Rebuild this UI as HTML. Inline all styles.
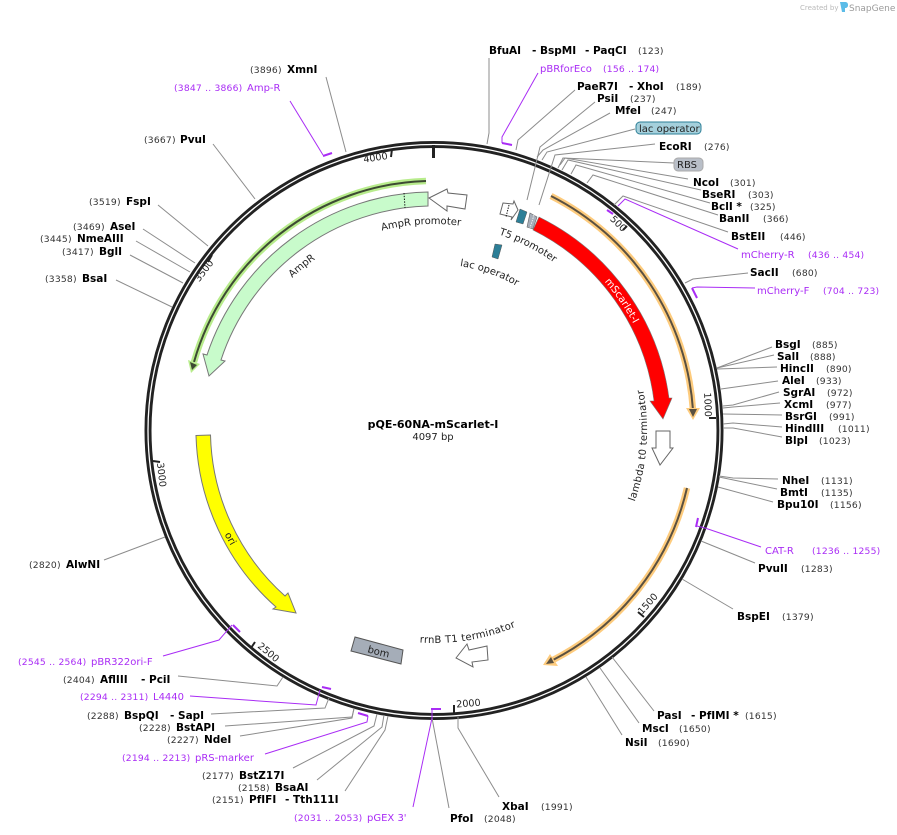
<!DOCTYPE html>
<html><head><meta charset="utf-8"><title>pQE-60NA-mScarlet-I</title>
<style>
html,body{margin:0;padding:0;background:#fff}
svg{display:block}
text{font-family:"DejaVu Sans",sans-serif;fill:#222}
.b{font-size:10.5px;font-weight:bold;fill:#000}
.n{font-size:9.2px;fill:#333;letter-spacing:.2px}
.p{font-size:10px;fill:#a92cf5}
.q{font-size:9.2px;fill:#a92cf5;letter-spacing:.2px}
.f{font-size:10px;fill:#222}
.t{font-size:9.6px;fill:#222}
.g{fill:none;stroke:#8c8c8c;stroke-width:1}
.v{fill:none;stroke:#a92cf5;stroke-width:1}
.m{fill:none;stroke:#a92cf5;stroke-width:2}
</style></head><body>
<svg width="897" height="835" viewBox="0 0 897 835" xmlns="http://www.w3.org/2000/svg">
<defs>
<path id="c206" d="M434 636A206 206 0 1 1 434 224A206 206 0 1 1 434 636"/>
<path id="c208" d="M434 638A208 208 0 1 1 434 222A208 208 0 1 1 434 638"/>
<path id="c166" d="M434 596A166 166 0 1 1 434 264A166 166 0 1 1 434 596"/>
<path id="c226" d="M434 656A226 226 0 1 1 434 204A226 226 0 1 1 434 656"/>
<path id="a213" d="M434 217A213 213 0 1 0 434 643A213 213 0 1 0 434 217"/>
<path id="a232" d="M434 198A232 232 0 1 0 434 662A232 232 0 1 0 434 198"/>
<path id="a234" d="M434 196A234 234 0 1 0 434 664A234 234 0 1 0 434 196"/>
</defs>

<!-- logo -->
<text x="800" y="10" style="font-size:7px;fill:#b9b9b9">Created by</text>
<path d="M840 2h5c2 0 3 1 3 3s-1 3-3 3v4h-3z" fill="#5bbce8"/>
<text x="849" y="11" style="font-size:9px;fill:#9a9a9a">SnapGene</text>

<!-- ring -->
<circle cx="434" cy="430.5" r="286" fill="none" stroke="#222" stroke-width="7"/>
<circle cx="434" cy="430.5" r="286" fill="none" stroke="#fff" stroke-width="1.3"/>

<!-- ticks -->
<g stroke="#222" fill="none">
<path d="M433.5 145V158" stroke-width="3"/>
<path d="M392 149L391 157" stroke-width="2"/>
<path d="M212 255L208 262" stroke-width="2"/>
<path d="M627 226L623 230" stroke-width="2"/>
<path d="M716 418H709" stroke-width="2"/>
<path d="M644 617L638 612" stroke-width="2"/>
<path d="M454 714V705" stroke-width="2"/>
<path d="M255 642L251 648" stroke-width="2"/>
<path d="M153 461L160 462" stroke-width="2"/>
</g>
<text class="t" transform="translate(388,159) rotate(-8.5)" text-anchor="end">4000</text>
<text class="t" transform="translate(214,263) rotate(-52.4)" text-anchor="end">3500</text>
<text class="t" transform="translate(622.7,232.3) rotate(44)" text-anchor="end">500</text>
<text class="t" transform="translate(705,417) rotate(88)" text-anchor="end">1000</text>
<text class="t" transform="translate(642,615) rotate(-48)">1500</text>
<text class="t" transform="translate(456.5,707.5) rotate(-4.3)">2000</text>
<text class="t" transform="translate(257,647) rotate(39.7)">2500</text>
<text class="t" transform="translate(157,463) rotate(83.6)">3000</text>

<!-- orange arcs -->
<g fill="none" stroke-linecap="butt">
<path d="M551 196A260 260 0 0 1 693 410" stroke="#fdcb7d" stroke-width="6.5"/>
<path d="M551 196A260 260 0 0 1 693 410" stroke="#5a5040" stroke-width="2"/>
<path d="M687 488A260 260 0 0 1 553 660" stroke="#fdcb7d" stroke-width="6.5"/>
<path d="M687 488A260 260 0 0 1 553 660" stroke="#5a5040" stroke-width="2"/>
<path d="M426 181A249 249 0 0 0 194 362" stroke="#b8ec8c" stroke-width="6.5"/>
<path d="M426 181A249 249 0 0 0 194 362" stroke="#3d4a33" stroke-width="2"/>
</g>
<path d="M686 408H700L693 420Z" fill="#fdcb7d"/><path d="M689 409H697L693 417Z" fill="#5a5040"/>
<path d="M550 654L558 666L543 665Z" fill="#fdcb7d"/><path d="M551 657L554 663L546 664Z" fill="#5a5040"/>
<path d="M188 360L200 364L191 373Z" fill="#b8ec8c"/><path d="M190 362L197 365L192 370Z" fill="#3d4a33"/>

<!-- features -->
<path d="M539 217A237 237 0 0 1 669 398L672 398L663 419L650 401L654 401A222 222 0 0 0 533 230Z" fill="#f00" stroke="#777" stroke-width=".6"/>
<path d="M428 192A238 238 0 0 0 207 355L203 354L209 376L225 361L221 360A224 224 0 0 1 428 206Z" fill="#c8fbcb" stroke="#777" stroke-width="1"/>
<path d="M404 193L405 208" stroke="#111" stroke-width="1" stroke-dasharray="1.4 1.4"/>
<path d="M196 435.5L210.5 435A223 223 0 0 0 285 596L288 593L296 613L273 609L276 607A238 238 0 0 1 196 435.5Z" fill="#ff0" stroke="#777" stroke-width="1"/>
<path d="M355 637L403 650L401 664L351 651Z" fill="#a5adb8" stroke="#555" stroke-width="1"/>
<path d="M429 198L447 189L448 193L467 195L465 209L447 206L447 211Z" fill="#fff" stroke="#666" stroke-width="1"/>
<path d="M456 658L467 644L469 650L487 646L488 660L472 662L473 667Z" fill="#fff" stroke="#666" stroke-width="1"/>
<path d="M656 431H670V448H673L660 465L652 448H656Z" fill="#fff" stroke="#666" stroke-width="1"/>
<path d="M503 203L513 204L514 201L518 210L511 220L512 217L500 214Z" fill="#fff" stroke="#666" stroke-width="1"/>
<path d="M509 205L506 217" stroke="#111" stroke-width="1" stroke-dasharray="1.4 1.2"/>
<path d="M520 209L527 212L523 224L516 222Z" fill="#2d7f97" stroke="#555" stroke-width=".5"/>
<path d="M530 213L537 217L533 229L527 227Z" fill="#a6adb8" stroke="#666" stroke-width=".6"/>
<path d="M534 215L530 228" stroke="#fff" stroke-width=".8" stroke-dasharray="1.4 1.2"/>
<path d="M495 244L502 245L498 259L492 257Z" fill="#2d7f97" stroke="#555" stroke-width=".5"/>

<!-- curved feature labels -->
<text class="f" text-anchor="middle"><textPath href="#c206" startOffset="49%">AmpR promoter</textPath></text>
<text class="f" text-anchor="middle"><textPath href="#c208" startOffset="39.2%">AmpR</textPath></text>
<text class="f" text-anchor="middle"><textPath href="#c206" startOffset="57.5%">T5 promoter</textPath></text>
<text class="f" text-anchor="middle"><textPath href="#c166" startOffset="55.4%">lac operator</textPath></text>
<text class="f" text-anchor="middle" style="fill:#fff"><textPath href="#c226" startOffset="65.4%">mScarlet-I</textPath></text>
<text class="f" text-anchor="middle" style="letter-spacing:.35px"><textPath href="#a213" startOffset="73.8%">lambda t0 terminator</textPath></text>
<text class="f" text-anchor="middle" style="letter-spacing:.3px"><textPath href="#a213" startOffset="52.6%">rrnB T1 terminator</textPath></text>
<text class="f" text-anchor="middle"><textPath href="#a232" startOffset="46.1%">bom</textPath></text>
<text class="f" text-anchor="middle"><textPath href="#a234" startOffset="32.8%">ori</textPath></text>

<!-- connectors -->
<g class="g">
<polyline class="g" points="489,58 489,133 487,144"/>
<polyline class="g" points="575,90 518,140 516,150"/>
<polyline class="g" points="595,102 540,147 527,200"/>
<polyline class="g" points="610,113 543,150 537,157"/>
<polyline class="g" points="635,129 547,152 542,160"/>
<polyline class="g" points="655,144 555,155 539,205"/>
<polyline class="g" points="674,163 563,158 558,168"/>
<polyline class="g" points="688,179 565,158 560,165"/>
<polyline class="g" points="701,190 568,160 562,170"/>
<polyline class="g" points="710,203 576,165 571,174"/>
<polyline class="g" points="718,215 593,175 587,183"/>
<polyline class="g" points="728,232 623,196 614,205"/>
<polyline class="g" points="748,273 693,279 685,283"/>
<polyline class="g" points="772,347 717,368"/>
<polyline class="g" points="774,355 717,368"/>
<polyline class="g" points="777,367 717,369"/>
<polyline class="g" points="778,381 721,389"/>
<polyline class="g" points="779,392 733,405 723,406"/>
<polyline class="g" points="780,403 733,407 723,408"/>
<polyline class="g" points="782,415 723,414"/>
<polyline class="g" points="782,427 733,423 723,424"/>
<polyline class="g" points="782,437 733,428 723,428"/>
<polyline class="g" points="778,479 733,478 719,476"/>
<polyline class="g" points="777,489 719,477"/>
<polyline class="g" points="773,502 718,487"/>
<polyline class="g" points="755,563 701,541"/>
<polyline class="g" points="733,609 682,579"/>
<polyline class="g" points="654,711 612,657"/>
<polyline class="g" points="639,723 600,668"/>
<polyline class="g" points="622,735 586,677"/>
<polyline class="g" points="499,797 458,728 458,717"/>
<polyline class="g" points="449,808 432,718"/>
<polyline class="g" points="345,791 385,730 388,716"/>
<polyline class="g" points="317,780 382,727 384,715"/>
<polyline class="g" points="293,768 374,726 377,714"/>
<polyline class="g" points="240,736 352,718 354,708"/>
<polyline class="g" points="225,726 352,717 354,709"/>
<polyline class="g" points="211,714 325,708 329,698"/>
<polyline class="g" points="178,676 277,686 283,677"/>
<polyline class="g" points="104,560 165,537"/>
<polyline class="g" points="116,280 172,307"/>
<polyline class="g" points="130,255 183,283"/>
<polyline class="g" points="136,241 190,272"/>
<polyline class="g" points="143,229 195,263"/>
<polyline class="g" points="158,205 208,246"/>
<polyline class="g" points="213,144 255,199"/>
<polyline class="g" points="326,77 346,152"/>
</g>
<g>
<polyline class="v" points="538,73 502,137 502,143"/><path class="m" d="M502 143L512 145"/>
<polyline class="v" points="738,249 625,199 618,206"/><path class="m" d="M607 210L613 214"/>
<polyline class="v" points="755,288 697,287 692,288"/><path class="m" d="M692 288L697 298"/>
<polyline class="v" points="761,547 705,528 697,526"/><path class="m" d="M698 518L696 527"/>
<polyline class="v" points="413,807 432,718 432,709"/><path class="m" d="M431 709H441"/>
<polyline class="v" points="265,754 367,722 368,716"/><path class="m" d="M358 713L368 716"/>
<polyline class="v" points="190,696 316,705 320,690"/><path class="m" d="M322 687L331 689"/>
<polyline class="v" points="163,656 219,640 232,625"/><path class="m" d="M233 625L240 632"/>
<polyline class="v" points="290,101 323,155"/><path class="m" d="M323 156L332 153"/>
</g>

<!-- label pills -->
<rect x="636" y="122" width="65" height="12" rx="4" fill="#a5d0dc" stroke="#2d7f97" stroke-width="1"/>
<text x="639" y="132" class="f">lac operator</text>
<rect x="674" y="158" width="29" height="13" rx="4" fill="#b9bfc8" stroke="#aaa" stroke-width="1"/>
<text x="677" y="168" class="f">RBS</text>

<!-- enzyme labels -->
<text x="489" y="54" class="b">BfuAI</text><text x="532" y="54" class="b">- BspMI</text><text x="585" y="54" class="b">- PaqCI</text><text x="638" y="54" class="n">(123)</text>
<text x="540" y="72" class="p">pBRforEco</text><text x="603" y="72" class="q">(156 .. 174)</text>
<text x="577" y="90" class="b">PaeR7I</text><text x="629" y="90" class="b">- XhoI</text><text x="676" y="90" class="n">(189)</text>
<text x="597" y="102" class="b">PsiI</text><text x="630" y="102" class="n">(237)</text>
<text x="615" y="114" class="b">MfeI</text><text x="651" y="114" class="n">(247)</text>
<text x="659" y="150" class="b">EcoRI</text><text x="704" y="150" class="n">(276)</text>
<text x="693" y="186" class="b">NcoI</text><text x="730" y="186" class="n">(301)</text>
<text x="702" y="198" class="b">BseRI</text><text x="748" y="198" class="n">(303)</text>
<text x="711" y="210" class="b">BclI *</text><text x="750" y="210" class="n">(325)</text>
<text x="719" y="222" class="b">BanII</text><text x="763" y="222" class="n">(366)</text>
<text x="731" y="240" class="b">BstEII</text><text x="780" y="240" class="n">(446)</text>
<text x="741" y="258" class="p">mCherry-R</text><text x="808" y="258" class="q">(436 .. 454)</text>
<text x="750" y="276" class="b">SacII</text><text x="792" y="276" class="n">(680)</text>
<text x="757" y="294" class="p">mCherry-F</text><text x="823" y="294" class="q">(704 .. 723)</text>
<text x="775" y="348" class="b">BsgI</text><text x="812" y="348" class="n">(885)</text>
<text x="777" y="360" class="b">SalI</text><text x="810" y="360" class="n">(888)</text>
<text x="780" y="372" class="b">HincII</text><text x="826" y="372" class="n">(890)</text>
<text x="782" y="384" class="b">AleI</text><text x="816" y="384" class="n">(933)</text>
<text x="783" y="396" class="b">SgrAI</text><text x="827" y="396" class="n">(972)</text>
<text x="784" y="408" class="b">XcmI</text><text x="826" y="408" class="n">(977)</text>
<text x="785" y="420" class="b">BsrGI</text><text x="829" y="420" class="n">(991)</text>
<text x="785" y="432" class="b">HindIII</text><text x="838" y="432" class="n">(1011)</text>
<text x="785" y="444" class="b">BlpI</text><text x="819" y="444" class="n">(1023)</text>
<text x="782" y="484" class="b">NheI</text><text x="821" y="484" class="n">(1131)</text>
<text x="780" y="496" class="b">BmtI</text><text x="821" y="496" class="n">(1135)</text>
<text x="777" y="508" class="b">Bpu10I</text><text x="830" y="508" class="n">(1156)</text>
<text x="765" y="554" class="p">CAT-R</text><text x="812" y="554" class="q">(1236 .. 1255)</text>
<text x="758" y="572" class="b">PvuII</text><text x="801" y="572" class="n">(1283)</text>
<text x="737" y="620" class="b">BspEI</text><text x="782" y="620" class="n">(1379)</text>
<text x="657" y="719" class="b">PasI</text><text x="691" y="719" class="b">- PfIMI *</text><text x="745" y="719" class="n">(1615)</text>
<text x="642" y="732" class="b">MscI</text><text x="679" y="732" class="n">(1650)</text>
<text x="625" y="746" class="b">NsiI</text><text x="658" y="746" class="n">(1690)</text>
<text x="502" y="810" class="b">XbaI</text><text x="541" y="810" class="n">(1991)</text>
<text x="450" y="822" class="b">PfoI</text><text x="484" y="822" class="n">(2048)</text>
<text x="367" y="821" class="p">pGEX 3'</text><text x="294" y="821" class="q">(2031 .. 2053)</text>
<text x="212" y="803" class="n">(2151)</text><text x="249" y="803" class="b">PfIFI</text><text x="285" y="803" class="b">- Tth111I</text>
<text x="238" y="791" class="n">(2158)</text><text x="275" y="791" class="b">BsaAI</text>
<text x="202" y="779" class="n">(2177)</text><text x="239" y="779" class="b">BstZ17I</text>
<text x="122" y="761" class="q">(2194 .. 2213)</text><text x="195" y="761" class="p">pRS-marker</text>
<text x="167" y="743" class="n">(2227)</text><text x="204" y="743" class="b">NdeI</text>
<text x="139" y="731" class="n">(2228)</text><text x="176" y="731" class="b">BstAPI</text>
<text x="87" y="719" class="n">(2288)</text><text x="124" y="719" class="b">BspQI</text><text x="170" y="719" class="b">- SapI</text>
<text x="80" y="700" class="q">(2294 .. 2311)</text><text x="153" y="700" class="p">L4440</text>
<text x="63" y="683" class="n">(2404)</text><text x="100" y="683" class="b">AflIII</text><text x="141" y="683" class="b">- PciI</text>
<text x="18" y="665" class="q">(2545 .. 2564)</text><text x="91" y="665" class="p">pBR322ori-F</text>
<text x="29" y="568" class="n">(2820)</text><text x="66" y="568" class="b">AlwNI</text>
<text x="45" y="282" class="n">(3358)</text><text x="82" y="282" class="b">BsaI</text>
<text x="62" y="255" class="n">(3417)</text><text x="99" y="255" class="b">BglI</text>
<text x="40" y="242" class="n">(3445)</text><text x="77" y="242" class="b">NmeAIII</text>
<text x="73" y="230" class="n">(3469)</text><text x="110" y="230" class="b">AseI</text>
<text x="89" y="205" class="n">(3519)</text><text x="126" y="205" class="b">FspI</text>
<text x="144" y="143" class="n">(3667)</text><text x="180" y="143" class="b">PvuI</text>
<text x="174" y="91" class="q">(3847 .. 3866)</text><text x="247" y="91" class="p">Amp-R</text>
<text x="250" y="73" class="n">(3896)</text><text x="287" y="73" class="b">XmnI</text>

<!-- centre -->
<text x="433" y="428" text-anchor="middle" style="font-size:11px;font-weight:bold;fill:#000">pQE-60NA-mScarlet-I</text>
<text x="433" y="440" text-anchor="middle" style="font-size:10px;fill:#222">4097 bp</text>
</svg>
</body></html>
